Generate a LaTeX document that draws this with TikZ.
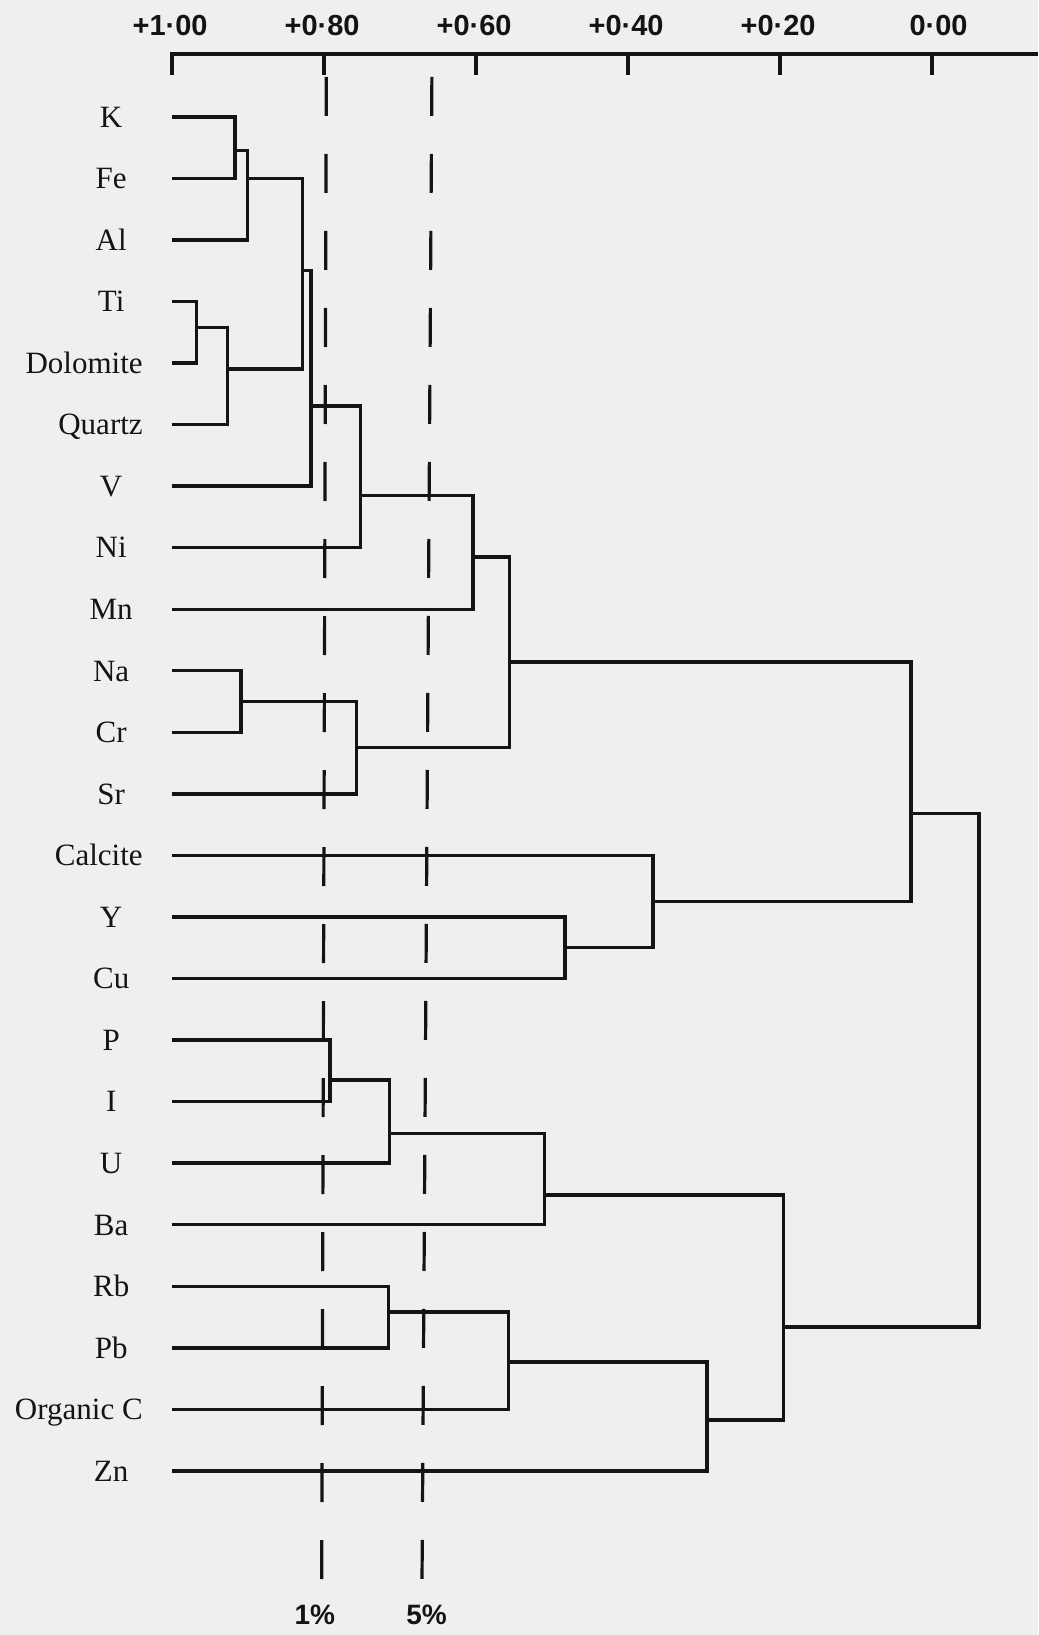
\documentclass[tikz,border=0pt]{standalone}
\usepackage{fontspec}
\setmainfont{Liberation Serif}
\setsansfont{Liberation Sans}
\usepackage{tikz}
\definecolor{ink}{HTML}{141414}
\definecolor{paper}{HTML}{EFEFEF}

\begin{document}
\begin{tikzpicture}[
    x={(-13.3555cm,0)}, y={(0,-1.0816cm)},
    every node/.style={inner sep=0pt, text=ink},
    leaf/.style={font=\fontsize{15.5}{18}\selectfont, text height=10.3pt, text depth=0pt},
    longleaf/.style={leaf, anchor=east},
    ticklab/.style={font=\sffamily\bfseries\fontsize{14.5}{16}\selectfont, text height=10.4pt, text depth=0pt, anchor=east, xshift=18pt},
    siglab/.style={font=\sffamily\bfseries\fontsize{14}{16}\selectfont, text height=10pt, text depth=0pt},
    branch/.style={draw=ink, line width=1.7pt, line join=miter},
    axisline/.style={draw=ink, line width=2pt},
    sigline/.style={draw=ink, line width=1.6pt, dash pattern=on 19.5pt off 19pt}
]

\path[use as bounding box, fill=paper] (1.2263,-1.898) rectangle (-0.1395,24.666);

% AXIS
\coordinate (ax1)   at (1, -1.02);
\coordinate (axend) at (-0.1395, -1.02);
\draw[axisline] (1,-0.679) -- (ax1) -- (axend);
\draw[axisline] (0.8,-1.02) -- (0.8,-0.679);
\draw[axisline] (0.6,-1.02) -- (0.6,-0.679);
\draw[axisline] (0.4,-1.02) -- (0.4,-0.679);
\draw[axisline] (0.2,-1.02) -- (0.2,-0.679);
\draw[axisline] (0,-1.02) -- (0,-0.679);

\node[ticklab] (t100) at (1.0, -1.49) {+1·00};
\node[ticklab] (t80)  at (0.8, -1.49) {+0·80};
\node[ticklab] (t60)  at (0.6, -1.49) {+0·60};
\node[ticklab] (t40)  at (0.4, -1.49) {+0·40};
\node[ticklab] (t20)  at (0.2, -1.49) {+0·20};
\node[ticklab] (t0)   at (0.0, -1.49) {0·00};

% SIGNIFICANCE LINES
\coordinate (onetop)  at (0.797, -0.647);
\coordinate (onebot)  at (0.803, 23.77);
\coordinate (fivetop) at (0.658, -0.647);
\coordinate (fivebot) at (0.671, 23.77);
\draw[sigline] (onetop) -- (onebot);
\draw[sigline] (fivetop) -- (fivebot);
\node[siglab] (one)  at (0.812, 24.34) {1\%};
\node[siglab] (five) at (0.665, 24.34) {5\%};

% LEAVES
\node[leaf]     (k)    at (1.080, 0)  {K};
\node[leaf]     (fe)   at (1.080, 1)  {Fe};
\node[leaf]     (al)   at (1.080, 2)  {Al};
\node[leaf]     (ti)   at (1.080, 3)  {Ti};
\node[longleaf] (dol)  at (1.038, 4)  {Dolomite};
\node[longleaf] (qtz)  at (1.038, 5)  {Quartz};
\node[leaf]     (v)    at (1.080, 6)  {V};
\node[leaf]     (ni)   at (1.080, 7)  {Ni};
\node[leaf]     (mn)   at (1.080, 8)  {Mn};
\node[leaf]     (na)   at (1.080, 9)  {Na};
\node[leaf]     (cr)   at (1.080, 10) {Cr};
\node[leaf]     (sr)   at (1.080, 11) {Sr};
\node[longleaf] (cal)  at (1.038, 12) {Calcite};
\node[leaf]     (y)    at (1.080, 13) {Y};
\node[leaf]     (cu)   at (1.080, 14) {Cu};
\node[leaf]     (p)    at (1.080, 15) {P};
\node[leaf]     (i)    at (1.080, 16) {I};
\node[leaf]     (u)    at (1.080, 17) {U};
\node[leaf]     (ba)   at (1.080, 18) {Ba};
\node[leaf]     (rb)   at (1.080, 19) {Rb};
\node[leaf]     (pb)   at (1.080, 20) {Pb};
\node[longleaf] (orgc) at (1.038, 21) {Organic C};
\node[leaf]     (zn)   at (1.080, 22) {Zn};

\coordinate (k0)    at (1, 0);
\coordinate (fe0)   at (1, 1);
\coordinate (al0)   at (1, 2);
\coordinate (ti0)   at (1, 3);
\coordinate (dol0)  at (1, 4);
\coordinate (qtz0)  at (1, 5);
\coordinate (v0)    at (1, 6);
\coordinate (ni0)   at (1, 7);
\coordinate (mn0)   at (1, 8);
\coordinate (na0)   at (1, 9);
\coordinate (cr0)   at (1, 10);
\coordinate (sr0)   at (1, 11);
\coordinate (cal0)  at (1, 12);
\coordinate (y0)    at (1, 13);
\coordinate (cu0)   at (1, 14);
\coordinate (p0)    at (1, 15);
\coordinate (i0)    at (1, 16);
\coordinate (u0)    at (1, 17);
\coordinate (ba0)   at (1, 18);
\coordinate (rb0)   at (1, 19);
\coordinate (pb0)   at (1, 20);
\coordinate (orgc0) at (1, 21);
\coordinate (zn0)   at (1, 22);

% MERGES
\coordinate (kfe)   at (0.917, 0.55);
\coordinate (kal)   at (0.901, 1.00);
\coordinate (tidol) at (0.968, 3.42);
\coordinate (tiq)   at (0.927, 4.10);
\coordinate (kq)    at (0.828, 2.50);
\coordinate (kv)    at (0.817, 4.70);
\coordinate (kni)   at (0.752, 6.15);
\coordinate (kmn)   at (0.604, 7.15);
\coordinate (nacr)  at (0.909, 9.50);
\coordinate (nasr)  at (0.757, 10.25);
\coordinate (ksr)   at (0.556, 8.86);
\coordinate (ycu)   at (0.483, 13.50);
\coordinate (calcu) at (0.367, 12.75);
\coordinate (kcu)   at (0.0275, 11.32);
\coordinate (pi)    at (0.792, 15.65);
\coordinate (pu)    at (0.714, 16.52);
\coordinate (pba)   at (0.510, 17.52);
\coordinate (rbpb)  at (0.715, 19.42);
\coordinate (rboc)  at (0.557, 20.23);
\coordinate (rbzn)  at (0.296, 21.17);
\coordinate (pzn)   at (0.195, 19.66);
\coordinate (all)   at (-0.062, 15.50);

% BRANCHES
\draw[branch] (k0) -| (kfe) |- (fe0);
\draw[branch] (kfe) -| (kal) |- (al0);
\draw[branch] (ti0) -| (tidol) |- (dol0);
\draw[branch] (tidol) -| (tiq) |- (qtz0);
\draw[branch] (kal) -| (kq) |- (tiq);
\draw[branch] (kq) -| (kv) |- (v0);
\draw[branch] (kv) -| (kni) |- (ni0);
\draw[branch] (kni) -| (kmn) |- (mn0);
\draw[branch] (na0) -| (nacr) |- (cr0);
\draw[branch] (nacr) -| (nasr) |- (sr0);
\draw[branch] (kmn) -| (ksr) |- (nasr);
\draw[branch] (y0) -| (ycu) |- (cu0);
\draw[branch] (cal0) -| (calcu) |- (ycu);
\draw[branch] (ksr) -| (kcu) |- (calcu);
\draw[branch] (p0) -| (pi) |- (i0);
\draw[branch] (pi) -| (pu) |- (u0);
\draw[branch] (pu) -| (pba) |- (ba0);
\draw[branch] (rb0) -| (rbpb) |- (pb0);
\draw[branch] (rbpb) -| (rboc) |- (orgc0);
\draw[branch] (rboc) -| (rbzn) |- (zn0);
\draw[branch] (pba) -| (pzn) |- (rbzn);
\draw[branch] (kcu) -| (all) |- (pzn);

\end{tikzpicture}
\end{document}
